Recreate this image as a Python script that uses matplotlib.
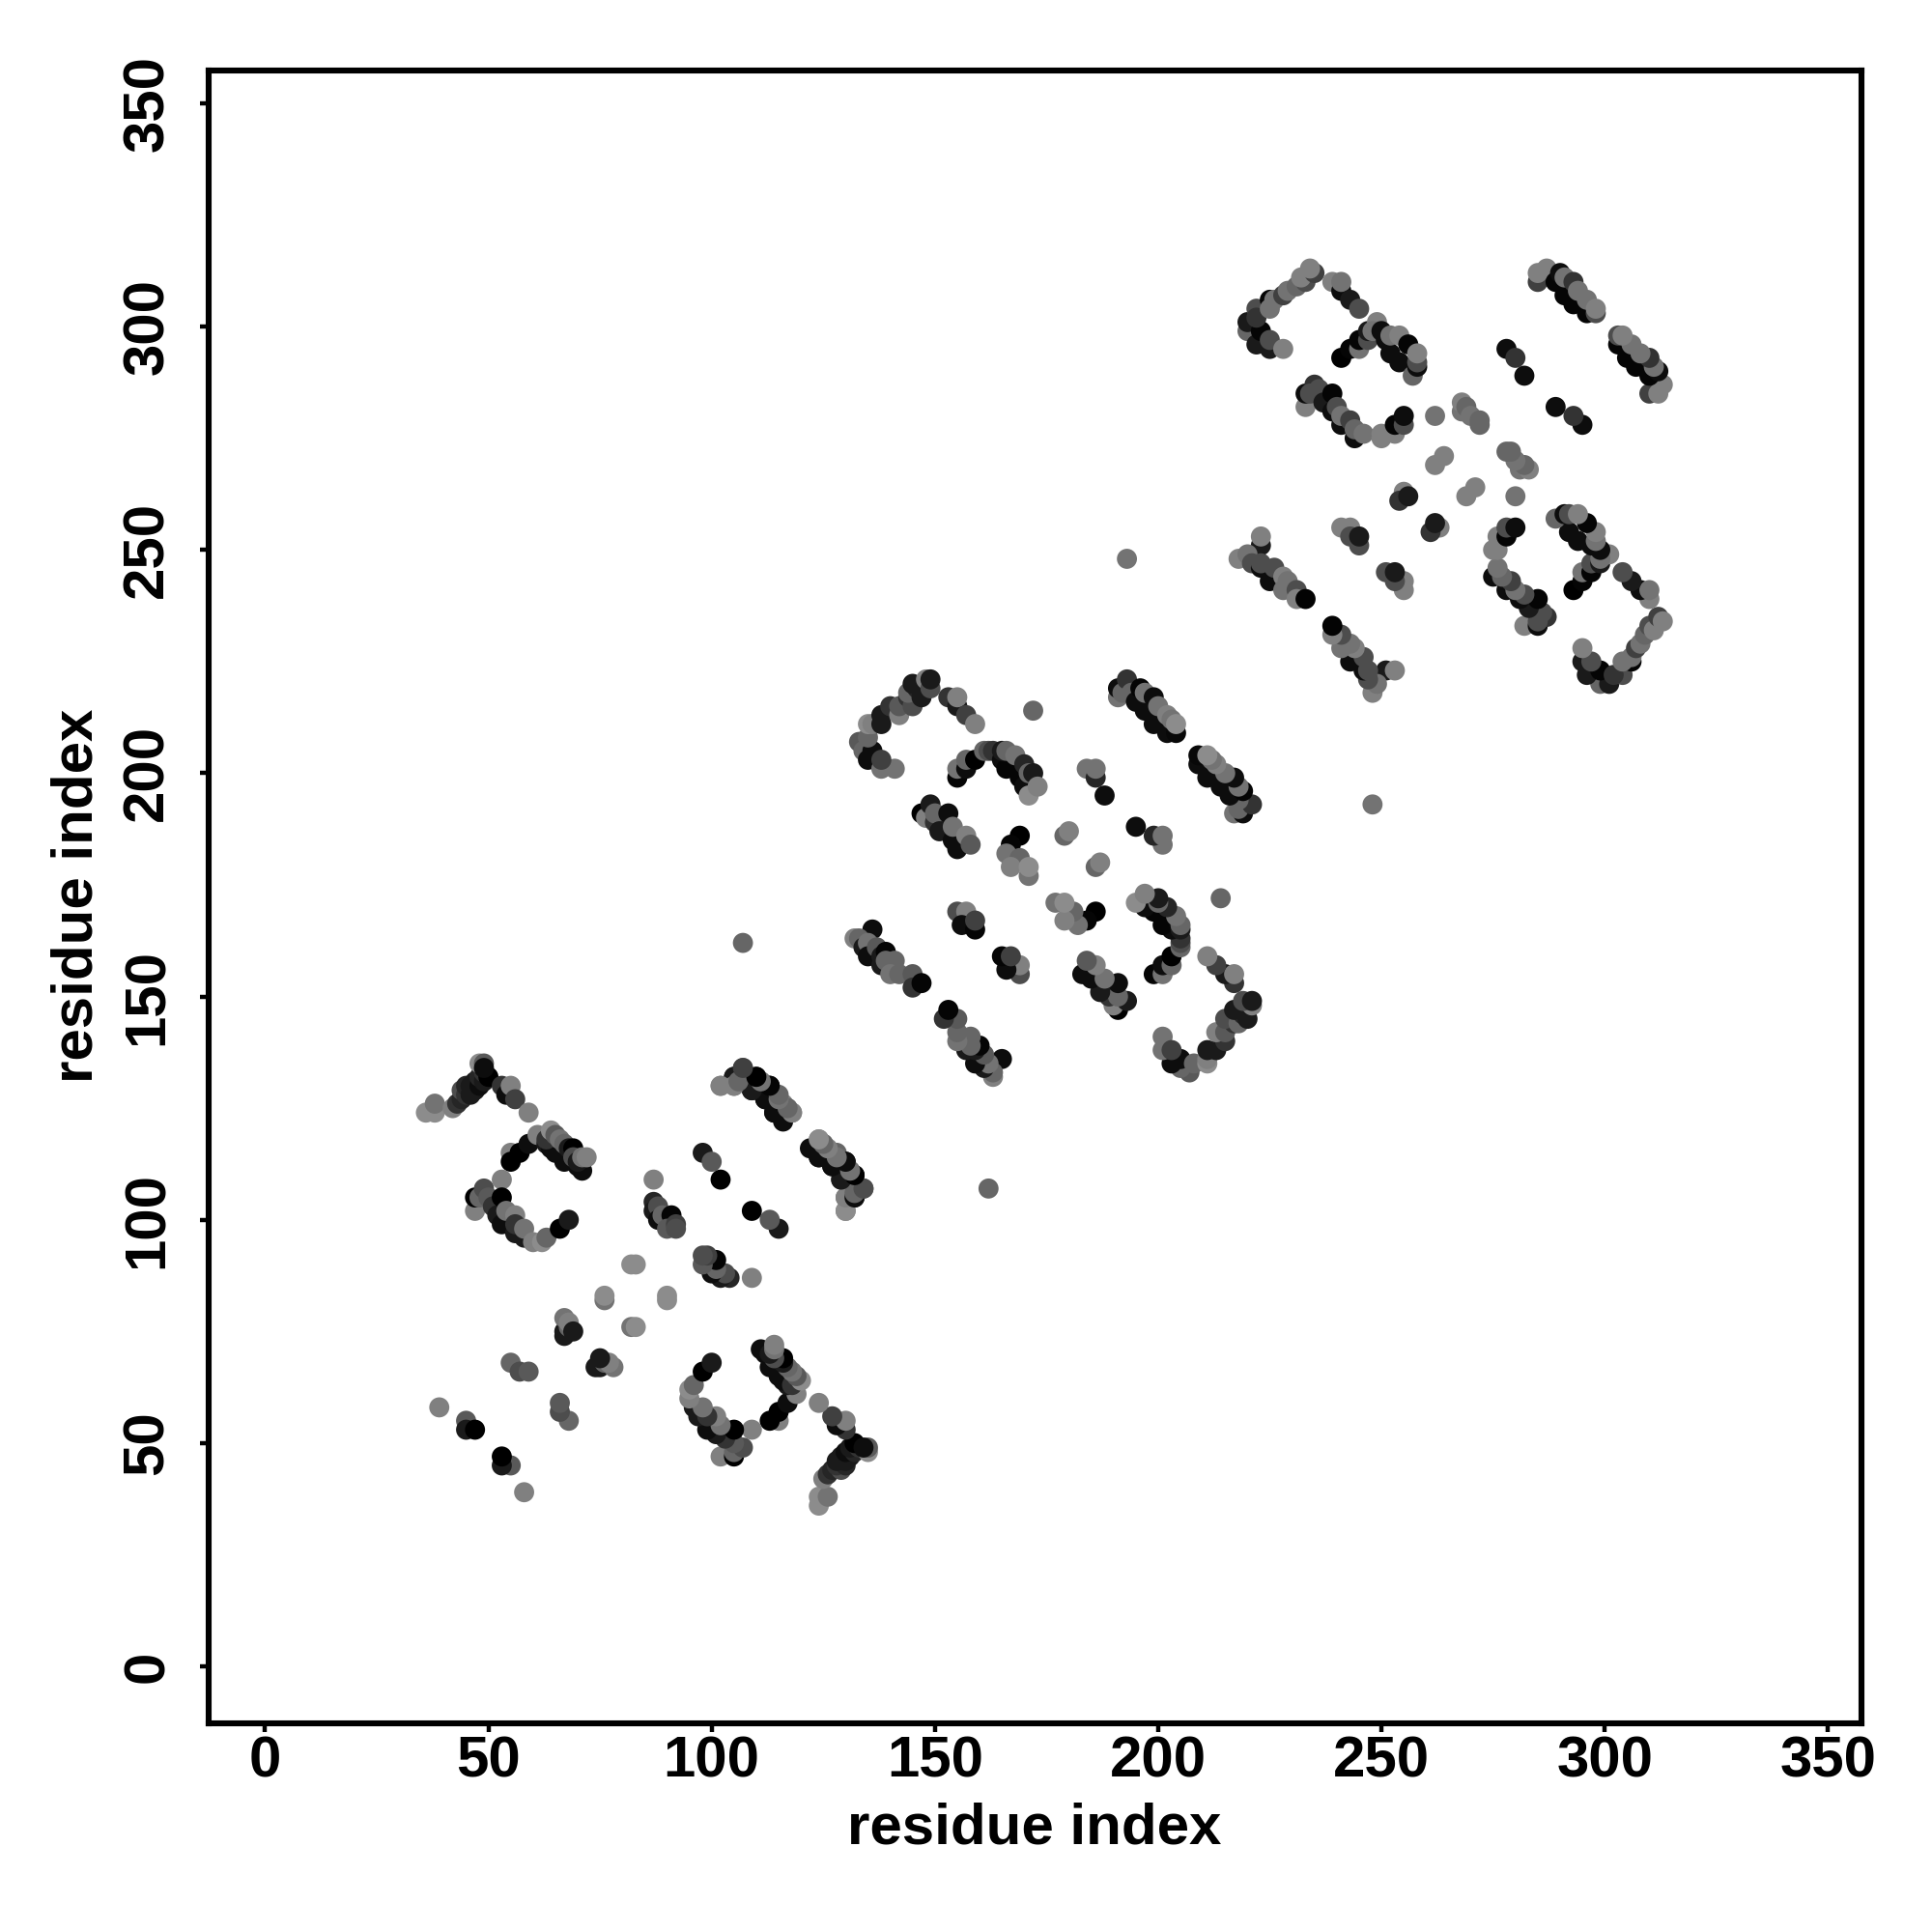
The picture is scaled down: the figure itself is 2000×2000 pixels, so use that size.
import matplotlib
matplotlib.use("Agg")
import matplotlib.pyplot as plt

tick_values = [0, 50, 100, 150, 200, 250, 300, 350]
axis_label = "residue index"

# contacts above the diagonal (the map is symmetric); shade is grey level in percent
res_i_a = [36,38,38,42,43,44,44,45,45,46,46,47,47,48,48,49,49,50,48,49,49,
           53,54,55,56,59,
           55,55,57,59,61,63,64,65,67,70,71,63,64,65,66,67,68,69,69,70,71,72,
           53,47,47,48,49,50,51,52,53,56,58,53,54,56,56,58,60,62,63,66,68,
           87,87,87,88,88,89,91,90,92,92,
           82,83,76,76,67,67,68,67,68,69,55,57,59,39,45,45,47,
           102,105,105,106,107,109,112,114,116,110,111,113,114,116,117,118,
           98,100,102,
           122,124,127,129,124,125,127,128,130,131,132,130,130,132,131,132,134]
res_j_a = [124,124,126,125,126,127,129,128,130,128,130,129,131,130,132,131,133,132,135,135,134,
           130,128,130,127,124,
           115,113,115,117,119,117,116,115,113,112,111,118,120,119,118,117,116,116,114,113,114,114,
           109,102,105,105,107,105,103,101,99,97,96,105,102,101,99,98,95,95,96,98,100,
           109,104,102,103,100,101,101,98,99,98,
           90,90,82,83,74,75,76,78,77,75,68,66,66,58,55,53,53,
           130,130,132,132,134,129,127,124,123,132,131,130,128,126,125,124,
           115,113,109,
           116,114,112,109,118,117,115,115,113,111,105,105,102,107,106,110,107]
shade_a = [55,55,45,50,20,15,30,20,15,10,10,10,10,5,15,10,20,0,55,35,5,
           20,5,50,25,50,
           50,0,0,5,50,10,5,5,5,5,5,20,55,35,45,40,10,0,30,10,45,50,
           50,50,0,40,30,35,20,10,5,10,10,0,45,50,20,45,50,55,40,0,10,
           50,15,10,30,5,40,2,35,25,30,
           55,55,45,55,10,10,40,45,50,10,40,30,35,50,35,10,0,
           55,50,5,40,30,10,5,5,5,0,45,5,45,50,40,55,
           10,35,0,
           5,5,5,10,50,40,45,40,2,45,10,50,50,10,40,0,25]

res_i_b = [133,134,135,136,135,135,136,138,141,138,138,138,140,142,142,144,145,144,146,147,145,148,149,149,
           153,155,155,157,159,172,
           155,155,157,157,159,161,162,163,165,166,169,170,171,165,166,168,170,171,172,173,
           184,186,186,188,
           147,148,149,150,150,151,154,155,153,154,157,158,
           169,167,166,169,167,171,171,
           179,180,
           155,157,156,159,159,
           136,132,133,134,135,135,137,138,139,138,139,141,140,142,145,145,147,
           191,191,192,193,194,195,197,199,202,204,196,197,199,200,202,203,204,
           107]
res_j_b = [207,205,203,205,208,211,211,201,201,203,211,213,215,213,215,217,215,218,219,217,220,221,219,221,
           217,215,217,213,211,214,
           199,201,201,203,203,205,205,205,203,201,199,197,195,205,205,204,202,200,200,197,
           201,199,201,195,
           191,190,193,189,191,187,185,183,191,188,186,184,
           186,184,182,181,179,177,179,
           186,187,
           169,169,166,165,167,
           165,163,163,161,162,159,161,159,160,157,158,158,155,155,155,152,153,
           217,219,218,221,218,216,214,211,209,209,219,218,217,215,213,212,211,
           162]
shade_b = [35,40,5,5,40,55,50,45,45,25,10,10,20,50,35,20,30,40,15,10,10,50,30,10,
           20,10,50,25,50,40,
           2,45,5,40,0,40,30,20,5,2,2,5,55,10,40,45,15,40,10,50,
           45,15,45,5,
           0,50,10,20,40,10,5,5,5,45,50,35,
           0,2,45,40,50,45,55,
           40,50,
           30,50,5,2,25,
           5,50,40,10,45,5,35,10,2,10,40,40,45,40,35,20,2,
           45,5,40,20,40,5,5,5,5,3,2,45,5,45,50,45,55,
           40]

res_i_c = [220,220,222,222,223,222,225,225,228,225,225,226,228,229,231,233,232,235,234,
           239,241,241,243,245,
           241,243,245,245,247,247,249,248,251,252,254,250,252,254,256,257,258,258,258,
           233,233,235,234,236,237,239,241,244,239,240,241,243,244,246,250,250,253,253,255,255,
           262,268,268,269,270,272,272,264,262,255,254,256,
           278,280,282,
           285,285,287,289,291,293,296,290,291,293,294,296,298,298,
           223,223,218,220,221,223,225,223,226,228,229,228,231,231,233,
           241,243,243,245,245,
           193]
res_j_c = [299,301,304,296,299,302,295,297,295,306,304,306,307,308,309,310,311,312,313,
           310,308,310,306,304,
           293,295,295,297,297,299,301,299,297,294,292,299,298,298,296,289,291,292,294,
           282,285,287,285,286,283,281,278,275,285,282,280,279,277,276,275,276,276,278,278,280,
           280,281,283,282,280,278,279,271,269,263,261,262,
           295,293,289,
           310,312,313,310,307,305,303,312,311,310,308,306,303,304,
           251,253,248,249,247,246,243,247,246,244,243,241,241,239,239,
           255,255,253,251,253,
           248]
shade_c = [40,10,30,10,2,20,10,30,50,2,45,45,25,45,40,30,50,25,50,
           50,5,45,10,30,
           0,2,45,2,30,10,50,45,5,5,5,5,45,50,2,40,5,30,50,
           50,5,20,30,30,10,5,5,5,2,30,45,25,40,45,50,50,50,2,30,5,
           45,45,50,40,45,40,40,50,50,50,20,10,
           5,20,5,
           25,50,50,2,2,2,2,5,45,20,45,45,30,50,
           10,50,50,45,30,5,5,30,30,50,45,45,30,50,1,
           50,50,30,30,10,
           45]

res_i = res_i_a + res_i_b + res_i_c
res_j = res_j_a + res_j_b + res_j_c
shade = shade_a + shade_b + shade_c
assert len(res_i) == len(res_j) == len(shade), (len(res_i), len(res_j), len(shade))

plt.rcParams['font.family'] = ['Liberation Sans', 'DejaVu Sans']
plt.rcParams['font.weight'] = 'bold'

W = 2000.0
fig = plt.figure(figsize=(10, 10), dpi=200, facecolor='white')
ax = fig.add_axes([216 / W, (W - 1784) / W, (1927 - 216) / W, (1784 - 72.7) / W])

colours = [str(s / 100) for s in shade]
ax.scatter(res_i + res_j, res_j + res_i, s=56, c=colours + colours, linewidths=0, zorder=3)

ax.set_xlim(-12.65, 357.5)
ax.set_ylim(-12.75, 357.4)
ax.set_xticks(tick_values)
ax.set_yticks(tick_values)
ax.tick_params(axis='x', length=3.2, width=1.6, pad=1.2, labelsize=21.6)
ax.tick_params(axis='y', length=3.2, width=1.6, pad=9.5, labelsize=21.6)
for t in ax.get_yticklabels():
    t.set_rotation(90)
    t.set_va('center')
for s in ax.spines.values():
    s.set_linewidth(2.2)

fig.text(1071 / W, 1 - 1893 / W, axis_label, fontsize=21.6, fontweight='bold', ha='center', va='center')
fig.text(80 / W, 1 - 927 / W, axis_label, fontsize=21.6, fontweight='bold', ha='center', va='center', rotation=90)

fig.savefig('out.png', dpi=200, facecolor='white')
